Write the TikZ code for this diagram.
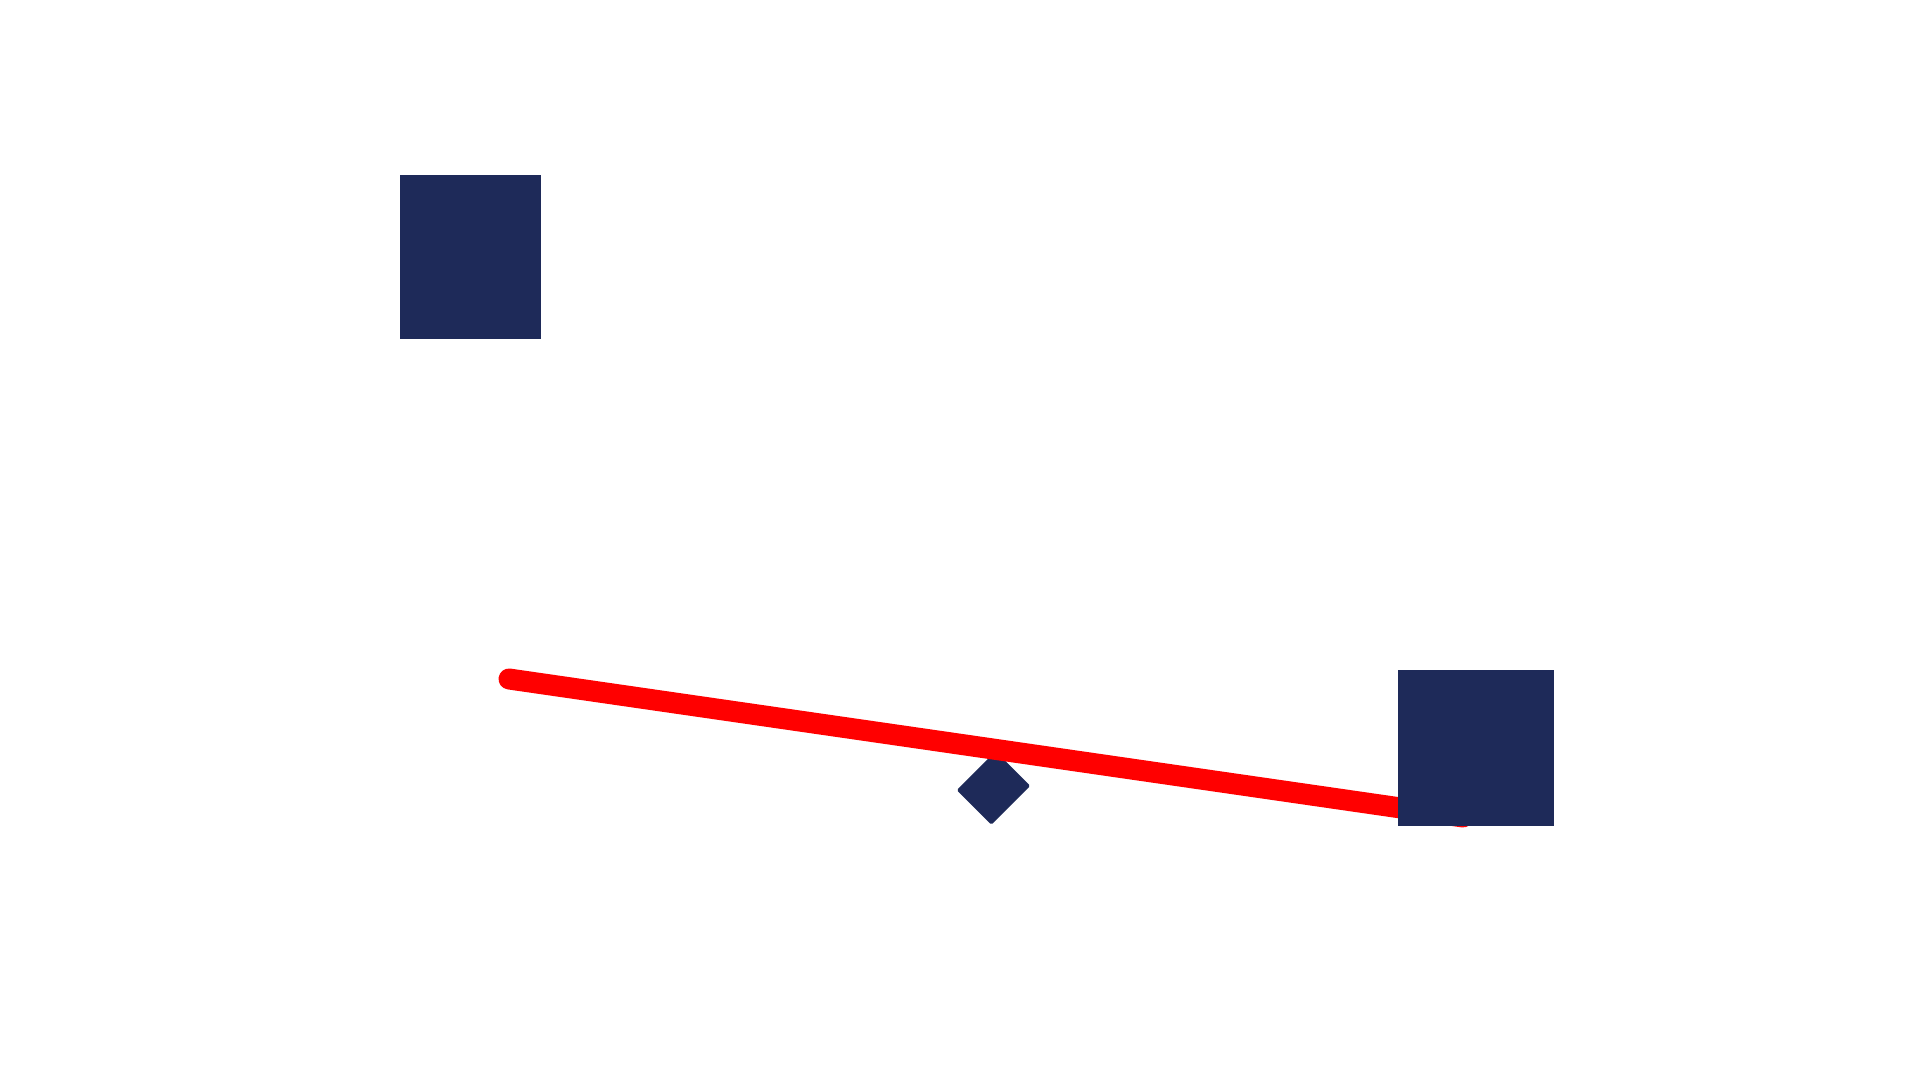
\documentclass[tikz,border=0pt]{standalone}
\definecolor{navy}{RGB}{30,42,89}
\tikzset{
  block/.style={rectangle,fill=navy,inner sep=0pt,outer sep=0pt},
  beam/.style={red,line width=0.21cm,line cap=round}
}
\begin{document}
\begin{tikzpicture}
	\useasboundingbox (0,0) rectangle (19.2,10.8);
	\node[block,minimum width=1.41cm,minimum height=1.64cm] (mA) at (4.705,8.23) {};
	\node[block,minimum width=0.55cm,minimum height=0.49cm,rotate=45,rounded corners=0.5pt] (pivot) at (9.935,2.92) {};
	\coordinate (beamL) at (5.09,4.01);
	\coordinate (beamR) at (14.63,2.63);
	\draw[beam] (beamL) -- (beamR);
	\node[block,minimum size=1.56cm] (mB) at (14.76,3.32) {};
\end{tikzpicture}
\end{document}
